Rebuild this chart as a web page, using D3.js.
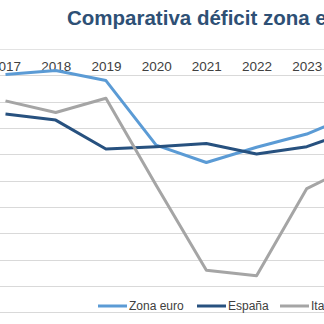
<!DOCTYPE html>
<html>
<head>
<meta charset="utf-8">
<script src="https://cdn.jsdelivr.net/npm/d3@7/dist/d3.min.js"></script>
<style>
  html, body { margin: 0; padding: 0; background: #fff; overflow: hidden; }
  svg { display: block; }
</style>
</head>
<body>
<svg id="chart" width="324" height="324"></svg>
<script>
const title = "Comparativa déficit zona euro, España e Italia";
const years = ["2017", "2018", "2019", "2020", "2021", "2022", "2023", "2024"];
const zonaEuro = [-0.97, -0.82, -1.2, -3.65, -4.31, -3.73, -3.23, -2.43];
const espana   = [-2.47, -2.70, -3.80, -3.71, -3.59, -3.99, -3.71, -3.03];
const italia   = [-1.97, -2.41, -1.87, -5.17, -8.40, -8.61, -5.30, -4.37];
const seriesNames = ["Zona euro", "España", "Italia"];
const seriesColors = ["#5B9BD5", "#27517F", "#A5A5A5"];
const yTicks = [0, -1, -2, -3, -4, -5, -6, -7, -8, -9, -10];

const series = [
  { name: seriesNames[0], values: zonaEuro, color: seriesColors[0] },
  { name: seriesNames[1], values: espana, color: seriesColors[1] },
  { name: seriesNames[2], values: italia, color: seriesColors[2] }
];

const svg = d3.select("#chart");

// Plot extends beyond the visible window (the reference is a cropped view)
const x = d3.scalePoint().domain(years).range([5.5, 357]);
const y = d3.scaleLinear().domain([0, -10]).range([49, 312.3]);
const plotLeft = -20, plotRight = 382;

// Gridlines
svg.append("g")
  .selectAll("line")
  .data(yTicks)
  .join("line")
  .attr("x1", plotLeft).attr("x2", plotRight)
  .attr("y1", d => Math.round(y(d)) + 0.5)
  .attr("y2", d => Math.round(y(d)) + 0.5)
  .attr("stroke", d => d === 0 ? "#E3E3E3" : "#D9D9D9")
  .attr("stroke-width", 1);

// Category axis labels (axis at top, labels below it)
const xAxis = d3.axisBottom(x).tickSize(0).tickPadding(0);
const gx = svg.append("g").attr("transform", `translate(0,${y(0)})`).call(xAxis);
gx.select(".domain").remove();
gx.selectAll("text")
  .attr("y", 21.5)
  .attr("dy", null)
  .style("font-family", "'Liberation Sans', Arial, sans-serif")
  .style("font-size", "13.5px")
  .attr("fill", "#404040");

// Lines
const line = d3.line()
  .x((d, i) => x(years[i]))
  .y(d => y(d));

svg.append("g")
  .selectAll("path")
  .data(series)
  .join("path")
  .attr("d", d => line(d.values))
  .attr("fill", "none")
  .attr("stroke", d => d.color)
  .attr("stroke-width", 3)
  .attr("stroke-linejoin", "round")
  .attr("stroke-linecap", "butt");

// Legend
const legendX = [98, 197, 280];
const legend = svg.append("g")
  .selectAll("g")
  .data(series)
  .join("g")
  .attr("transform", (d, i) => `translate(${legendX[i]},306)`);
legend.append("line")
  .attr("x1", 0).attr("x2", 29)
  .attr("y1", 0).attr("y2", 0)
  .attr("stroke", d => d.color)
  .attr("stroke-width", 3);
legend.append("text")
  .attr("x", 31)
  .attr("y", 4.3)
  .text(d => d.name)
  .style("font-family", "'Liberation Sans', Arial, sans-serif")
  .style("font-size", "12px")
  .attr("fill", "#404040");

// Title
svg.append("text")
  .attr("x", 67)
  .attr("y", 24.5)
  .text(title)
  .style("font-family", "'Liberation Sans', Arial, sans-serif")
  .style("font-weight", "bold")
  .style("font-size", "20.5px")
  .attr("fill", "#2E5075");
</script>
</body>
</html>
